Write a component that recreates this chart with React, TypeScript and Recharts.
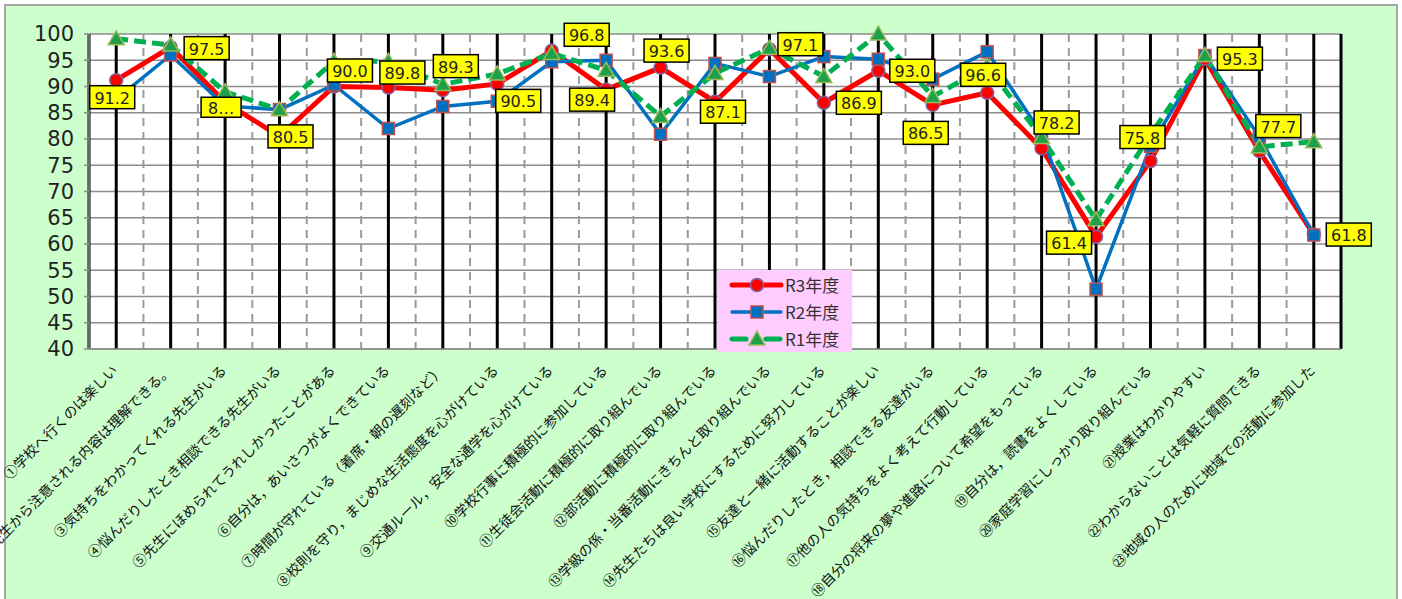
import React from 'react'
import { LineChart, Line, XAxis, YAxis, CartesianGrid, Legend } from 'recharts'

const categories = [
    '①学校へ行くのは楽しい',
    '②先生から注意される内容は理解できる。',
    '③気持ちをわかってくれる先生がいる',
    '④悩んだりしたとき相談できる先生がいる',
    '⑤先生にほめられてうれしかったことがある',
    '⑥自分は，あいさつがよくできている',
    '⑦時間が守れている（着席・朝の遅刻など）',
    '⑧校則を守り，まじめな生活態度を心がけている',
    '⑨交通ルール，安全な通学を心がけている',
    '⑩学校行事に積極的に参加している',
    '⑪生徒会活動に積極的に取り組んでいる',
    '⑫部活動に積極的に取り組んでいる',
    '⑬学級の係・当番活動にきちんと取り組んでいる',
    '⑭先生たちは良い学校にするために努力している',
    '⑮友達と一緒に活動することが楽しい',
    '⑯悩んだりしたとき，相談できる友達がいる',
    '⑰他の人の気持ちをよく考えて行動している',
    '⑱自分の将来の夢や進路について希望をもっている',
    '⑲自分は，読書をよくしている',
    '⑳家庭学習にしっかり取り組んでいる',
    '㉑授業はわかりやすい',
    '㉒わからないことは気軽に質問できる',
    '㉓地域の人のために地域での活動に参加した',
]

const r3 = [91.2, 97.5, 87.0, 80.5, 90.0, 89.8, 89.3, 90.5, 96.8, 89.4, 93.6, 87.1, 97.1, 86.9, 93.0, 86.5, 88.8, 78.2, 61.4, 75.8, 95.3, 77.7, 61.8]
const r2 = [87.6, 96.0, 86.3, 85.6, 90.3, 82.0, 86.2, 87.2, 94.7, 95.0, 80.9, 94.4, 91.9, 95.7, 95.2, 91.4, 96.6, 81.0, 51.4, 78.6, 95.9, 80.4, 61.7]
const r1 = [99.1, 97.9, 89.0, 85.6, 94.8, 94.8, 90.4, 92.4, 96.3, 93.1, 84.3, 92.5, 97.3, 91.9, 100.0, 88.1, 93.8, 80.3, 64.6, 80.8, 95.9, 78.5, 79.5]

// label texts as printed on the chart
const r3LabelText = ['91.2', '97.5', '8…', '80.5', '90.0', '89.8', '89.3', '90.5', '96.8', '89.4', '93.6', '87.1', '97.1', '86.9', '93.0', '86.5', '96.6', '78.2', '61.4', '75.8', '95.3', '77.7', '61.8']

// where each label box sits relative to its point
const labelOffsets = [
    [-4, 17], [36, 1], [-4, 5], [11, 0], [16, -16], [14, -15], [13, -24], [21, 17],
    [35, -16], [-14, 10], [6, -17], [8, 10], [31, -5], [35, 0], [34, 0], [-7, 28],
    [-4, -18], [15, -26], [-27, 6], [-8, -24], [35, 0], [19, -25], [35, 0],
]

const yTicks = [40, 45, 50, 55, 60, 65, 70, 75, 80, 85, 90, 95, 100]
const boundaryTicks = Array.from({ length: categories.length + 1 }, (_, k) => k)

const data = categories.map((name, i) => ({
    name,
    pos: i + 0.5,
    r3: r3[i],
    r2: r2[i],
    r1: r1[i],
}))

const RED = '#ff0000'
const BLUE = '#0070c0'
const GREEN = '#00b050'

function CatTick(props: any) {
    const { x, y, payload } = props
    return (
        <g transform={`translate(${x - 2},${y + 12})`}>
            <text
                transform="rotate(-45)"
                textAnchor="end"
                dominantBaseline="central"
                fontSize={14}
                fontFamily='"Noto Sans CJK JP"'
                fill="#111"
            >
                {payload.value}
            </text>
        </g>
    )
}

function circleDot(props: any) {
    const { cx, cy, index } = props
    return <circle key={`c${index}`} cx={cx} cy={cy} r={6.5} fill={RED} stroke="#8064a2" strokeWidth={1.5} />
}

function squareDot(props: any) {
    const { cx, cy, index } = props
    return <rect key={`s${index}`} x={cx - 6} y={cy - 6} width={12} height={12} fill={BLUE} stroke="#c0504d" strokeWidth={1.5} />
}

function triangleDot(props: any) {
    const { cx, cy, index } = props
    return (
        <polygon
            key={`t${index}`}
            points={`${cx},${cy - 8} ${cx + 8},${cy + 6} ${cx - 8},${cy + 6}`}
            fill="#1ea04a"
            stroke="#9bbb59"
            strokeWidth={1.5}
        />
    )
}

function r3Label(props: any) {
    const { cx, cy, index } = props
    const [dx, dy] = labelOffsets[index]
    const text = r3LabelText[index]
    const w = text.length >= 4 ? 45 : 40
    const h = text.length >= 4 ? 23 : 20
    return (
        <g key={`l${index}`}>
            <rect x={cx + dx - w / 2} y={cy + dy - h / 2} width={w} height={h} fill="#ffff00" stroke="#000" strokeWidth={1.5} />
            <text
                x={cx + dx}
                y={cy + dy + 1}
                textAnchor="middle"
                dominantBaseline="central"
                fontSize={16}
                fontFamily="DejaVu Sans"
                fill="#222"
            >
                {text}
            </text>
        </g>
    )
}

const legendRows = [
    { name: 'R3年度', color: RED, width: 5, dash: undefined, marker: 'circle' },
    { name: 'R2年度', color: BLUE, width: 3.5, dash: undefined, marker: 'square' },
    { name: 'R1年度', color: GREEN, width: 5, dash: '14 20', marker: 'triangle' },
]

function LegendBox() {
    return (
        <div style={{ background: '#ffccff', width: 135, height: 82, paddingTop: 1, boxSizing: 'border-box' }}>
            {legendRows.map(r => (
                <div key={r.name} style={{ display: 'flex', alignItems: 'center', height: 27 }}>
                    <svg width={68} height={20} style={{ display: 'block' }}>
                        <line x1={15} y1={10} x2={64} y2={10} stroke={r.color} strokeWidth={r.width} strokeDasharray={r.dash} strokeLinecap="round" />
                        {r.marker === 'circle' && circleDot({ cx: 40, cy: 10, index: 0 })}
                        {r.marker === 'square' && squareDot({ cx: 40, cy: 10, index: 0 })}
                        {r.marker === 'triangle' && triangleDot({ cx: 40, cy: 10, index: 0 })}
                    </svg>
                    <span style={{ fontFamily: '"Noto Sans CJK JP"', fontSize: 17, color: '#333' }}>{r.name}</span>
                </div>
            ))}
        </div>
    )
}

export default function App() {
    return (
        <div style={{ position: 'relative', width: 1402, height: 599, overflow: 'hidden', background: '#fff' }}>
            <style>{'body{margin:0}'}</style>
            <div
                style={{
                    position: 'absolute',
                    left: 4,
                    top: 4,
                    width: 1394,
                    height: 640,
                    background: '#ccffcc',
                    border: '2px solid #a6a6a6',
                    boxSizing: 'border-box',
                }}
            />
            <div style={{ position: 'absolute', left: 0, top: 0 }}>
                <LineChart width={1402} height={599} data={data} margin={{ top: 34, right: 61, bottom: 50, left: 29 }}>
                    <CartesianGrid vertical={false} stroke="#8c8c8c" strokeWidth={1.5} fill="#ffffff" fillOpacity={1} />
                    <CartesianGrid xAxisId="b" horizontal={false} stroke="#9a9a9a" strokeWidth={2} strokeDasharray="8 6" />
                    <CartesianGrid horizontal={false} stroke="#000" strokeWidth={3} />
                    <XAxis
                        dataKey="name"
                        scale="band"
                        interval={0}
                        height={200}
                        tickLine={false}
                        tickMargin={0}
                        tick={<CatTick />}
                        axisLine={{ stroke: '#8c8c8c', strokeWidth: 1.5 }}
                    />
                    <XAxis xAxisId="b" type="number" dataKey="pos" domain={[0, categories.length]} ticks={boundaryTicks} hide />
                    <YAxis
                        domain={[40, 100]}
                        ticks={yTicks}
                        interval={0}
                        width={60}
                        tickSize={5}
                        tickMargin={10}
                        axisLine={{ stroke: '#8c8c8c', strokeWidth: 1.5 }}
                        tickLine={{ stroke: '#8c8c8c', strokeWidth: 1.5 }}
                        tick={{ fontSize: 21, fontFamily: 'DejaVu Sans', fill: '#222' }}
                    />
                    <Line type="linear" dataKey="r3" name="R3年度" stroke={RED} strokeWidth={5} dot={circleDot} activeDot={false} isAnimationActive={false} />
                    <Line type="linear" dataKey="r2" name="R2年度" stroke={BLUE} strokeWidth={3.5} dot={squareDot} activeDot={false} isAnimationActive={false} />
                    <Line type="linear" dataKey="r1" name="R1年度" stroke={GREEN} strokeWidth={5} strokeDasharray="12 6" dot={triangleDot} activeDot={false} isAnimationActive={false} />
                    <Line type="linear" dataKey="r3" stroke="none" dot={r3Label} activeDot={false} legendType="none" isAnimationActive={false} />
                    <Legend
                        layout="vertical"
                        align="center"
                        verticalAlign="middle"
                        wrapperStyle={{ left: 717, top: 270, width: 135, height: 82 }}
                        content={<LegendBox />}
                    />
                </LineChart>
            </div>
        </div>
    )
}
